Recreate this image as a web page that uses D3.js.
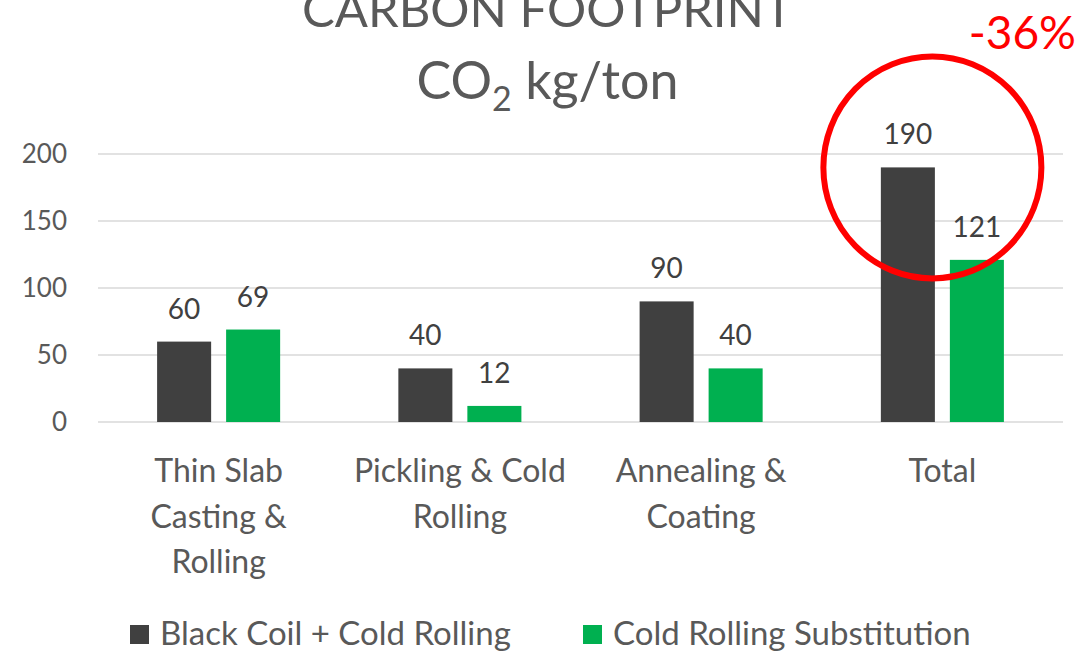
<!DOCTYPE html>
<html>
<head>
<meta charset="utf-8">
<script src="https://cdn.jsdelivr.net/npm/d3@7"></script>
<style>
  body { margin: 0; background: #fff; }
  svg { display: block; font-family: Lato, "Open Sans", sans-serif; }
</style>
</head>
<body>
<div id="chart"></div>
<script>
// data
var categories = ["Thin Slab Casting & Rolling", "Pickling & Cold Rolling", "Annealing & Coating", "Total"]
var categoryLines = [["Thin Slab", "Casting &", "Rolling"], ["Pickling & Cold", "Rolling"], ["Annealing &", "Coating"], ["Total"]]
var seriesNames = ["Black Coil + Cold Rolling", "Cold Rolling Substitution"]
var blackCoil = [60, 40, 90, 190]
var substitution = [69, 12, 40, 121]
var yTicks = [0, 50, 100, 150, 200]
var changeLabel = "-36%"

// layout (plot area)
var W = 1083, H = 652
var plotLeft = 98, plotRight = 1063, plotTop = 154, plotBottom = 422
var colors = ["#404040", "#00B050"]

var svg = d3.select("#chart").append("svg")
  .attr("width", W).attr("height", H)

var x0 = d3.scaleBand().domain(categories).range([plotLeft, plotRight]).paddingInner(0.49).paddingOuter(0.245)
var x1 = d3.scaleBand().domain(seriesNames).range([0, x0.bandwidth()]).paddingInner(0.217)
var y = d3.scaleLinear().domain([0, 200]).range([plotBottom, plotTop])

// gridlines
svg.append("g").selectAll("line").data(yTicks).enter().append("line")
  .attr("x1", plotLeft).attr("x2", plotRight)
  .attr("y1", d => y(d)).attr("y2", d => y(d))
  .attr("stroke", "#d9d9d9").attr("stroke-width", 1.5)

// y axis labels
var yAxis = svg.append("g")
  .attr("transform", "translate(" + (plotLeft - 31) + ",0)")
  .call(d3.axisLeft(y).tickValues(yTicks).tickSize(0).tickPadding(0))
yAxis.select(".domain").remove()
yAxis.selectAll("text").attr("font-size", 26).attr("fill", "#595959").attr("font-family", "Lato, sans-serif")

// bars
var rows = categories.map((c, i) => ({ cat: c, vals: [blackCoil[i], substitution[i]] }))
var groups = svg.append("g").selectAll("g").data(rows).enter().append("g")
  .attr("transform", d => "translate(" + x0(d.cat) + ",0)")

groups.selectAll("rect").data(d => d.vals.map((v, j) => ({ name: seriesNames[j], v: v, j: j })))
  .enter().append("rect")
  .attr("x", d => x1(d.name))
  .attr("y", d => y(d.v))
  .attr("width", x1.bandwidth())
  .attr("height", d => y(0) - y(d.v))
  .attr("fill", d => colors[d.j])

groups.selectAll("text.val").data(d => d.vals.map((v, j) => ({ name: seriesNames[j], v: v })))
  .enter().append("text").attr("class", "val")
  .attr("x", d => x1(d.name) + x1.bandwidth() / 2)
  .attr("y", d => y(d.v) - 23)
  .attr("text-anchor", "middle")
  .attr("font-size", 28).attr("fill", "#404040")
  .text(d => d.v)

// category labels
var catG = svg.append("g").selectAll("text").data(categories).enter().append("text")
  .attr("text-anchor", "middle")
  .attr("font-size", 32).attr("fill", "#595959")
  .attr("x", d => x0(d) + x0.bandwidth() / 2)
  .attr("y", 482)
catG.each(function (d, i) {
  var t = d3.select(this)
  categoryLines[i].forEach((line, k) => {
    t.append("tspan").attr("x", x0(d) + x0.bandwidth() / 2).attr("dy", k === 0 ? 0 : 45.5).text(line)
  })
})

// title (first line is cut by the top edge, as in the source)
var cx = (plotLeft + plotRight) / 2 - 33
svg.append("text").attr("x", cx).attr("y", 27).attr("text-anchor", "middle")
  .attr("font-size", 49).attr("fill", "#595959").text("CARBON FOOTPRINT")
var sub = svg.append("text").attr("x", cx).attr("y", 99).attr("text-anchor", "middle")
  .attr("font-size", 52).attr("fill", "#595959")
sub.append("tspan").text("CO")
sub.append("tspan").attr("font-size", 34).attr("dy", 12).text("2")
sub.append("tspan").attr("dy", -12).text(" kg/ton")

// annotation circle around Total
var totalCenter = x0("Total") + x0.bandwidth() / 2
svg.append("ellipse")
  .attr("cx", totalCenter - 10).attr("cy", y(190))
  .attr("rx", 109).attr("ry", 111)
  .attr("fill", "none").attr("stroke", "#ff0000").attr("stroke-width", 6)
svg.append("text").attr("x", 1076).attr("y", 49).attr("text-anchor", "end")
  .attr("font-size", 46).attr("fill", "#ff0000").text(changeLabel)

// legend
var legendX = [130, 583]
var leg = svg.append("g").selectAll("g").data(seriesNames).enter().append("g")
  .attr("transform", (d, i) => "translate(" + legendX[i] + ",625)")
leg.append("rect").attr("width", 19).attr("height", 19).attr("fill", (d, i) => colors[i])
leg.append("text").attr("x", 30).attr("y", 20).attr("font-size", 33).attr("fill", "#595959").text(d => d)
</script>
</body>
</html>
